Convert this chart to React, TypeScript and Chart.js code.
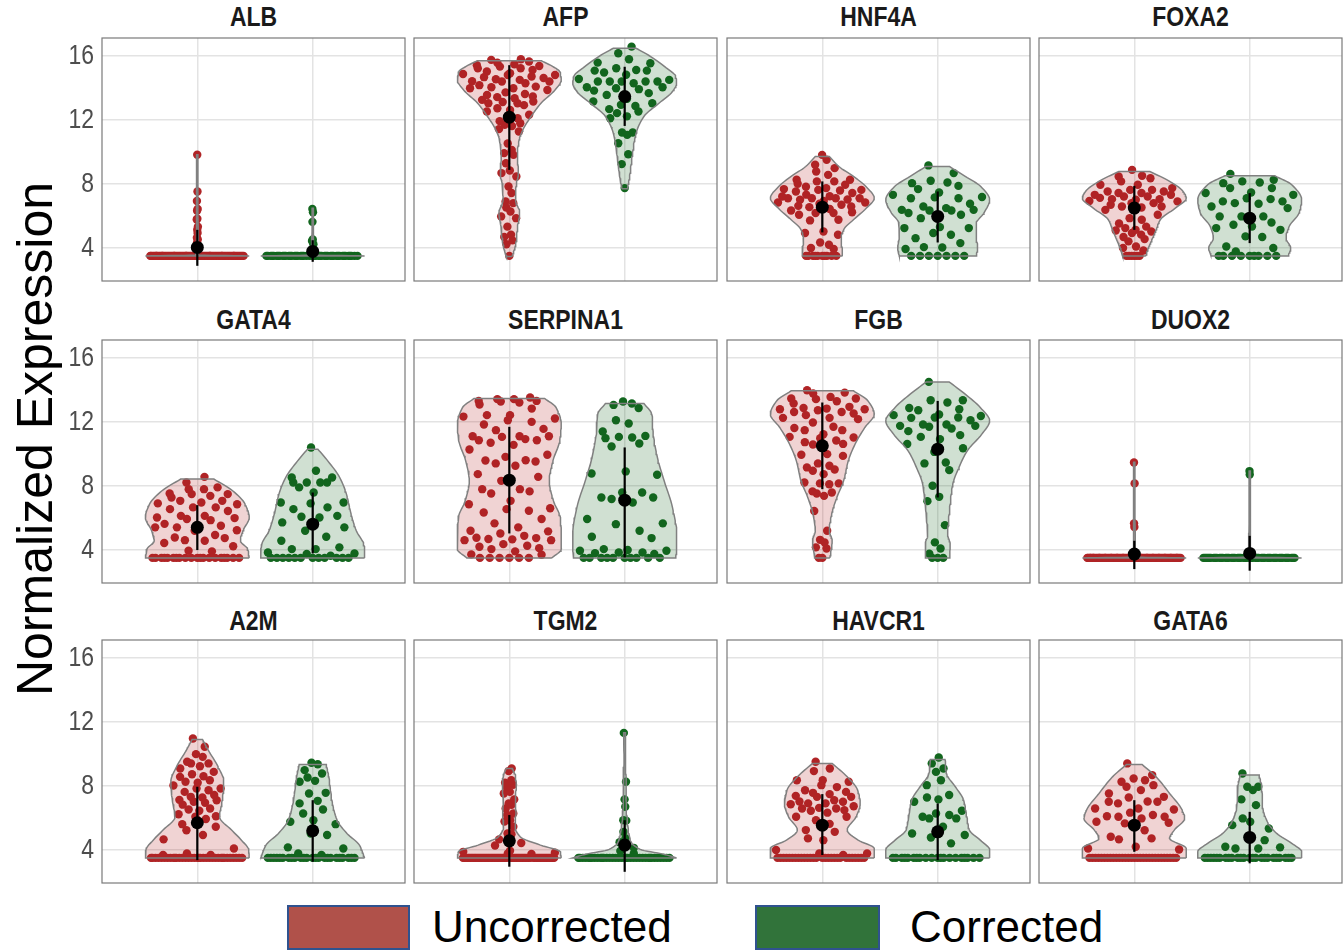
import React, { useEffect, useRef } from "react";
import { Chart, registerables } from "chart.js";

Chart.register(...registerables);

// ---------------- DATA ----------------
const GENES = ["ALB", "AFP", "HNF4A", "FOXA2", "GATA4", "SERPINA1", "FGB", "DUOX2", "A2M", "TGM2", "HAVCR1", "GATA6"];
const GROUPS = ["Uncorrected", "Corrected"];
const Y_TICKS = [4, 8, 12, 16];
const FLOOR = 3.47; // detection floor where many samples sit

// number of samples sitting on the floor, per gene
const FLOOR_COUNT_U = [72, 1, 10, 6, 20, 6, 2, 80, 35, 60, 28, 30];
const FLOOR_COUNT_C = [45, 0, 7, 9, 12, 10, 3, 48, 24, 36, 20, 24];

// sample values above the floor
const ALB_U = [9.8, 7.5, 6.9, 6.4, 6.3, 5.8, 5.75, 5.3, 5.1, 4.9, 4.6, 4.5, 4.3, 4.1];
const ALB_C = [6.4, 6.2, 5.6, 4.5, 4.4, 4.2, 3.9];
const AFP_U = [15.77, 15.73, 15.63, 15.55, 15.46, 15.4, 15.35, 15.31, 15.21, 15.2, 15.1, 15.0, 14.9, 14.85, 14.79, 14.79, 14.69, 14.65, 14.6, 14.52, 14.48, 14.4, 14.38, 14.38, 14.27, 14.15, 14.06, 14.02, 13.96, 13.96, 13.85, 13.7, 13.6, 13.54, 13.44, 13.4, 13.33, 13.23, 13.13, 13.1, 13.02, 13.02, 12.9, 12.71, 12.6, 12.5, 12.3, 12.19, 12.08, 11.9, 11.77, 11.67, 11.6, 11.4, 11.25, 10.5, 10.1, 9.9, 9.79, 9.27, 8.81, 8.65, 8.44, 7.81, 7.4, 6.88, 6.77, 6.5, 6.25, 5.94, 5.83, 5.3, 4.79, 4.65, 4.44, 4.2];
const AFP_C = [16.56, 16.15, 15.77, 15.56, 15.52, 15.21, 15.1, 15.06, 15.06, 14.94, 14.8, 14.54, 14.48, 14.38, 14.38, 14.38, 14.38, 14.38, 14.27, 14.02, 14.02, 13.96, 13.9, 13.81, 13.65, 13.54, 13.3, 13.13, 13.02, 12.92, 12.85, 12.65, 12.5, 12.4, 12.2, 12.08, 11.19, 11.19, 11.04, 10.52, 9.83, 9.21, 7.71];
const HNF4A_U = [9.79, 9.48, 9.17, 8.96, 8.75, 8.54, 8.23, 8.23, 8.13, 8.13, 7.98, 7.92, 7.8, 7.71, 7.65, 7.6, 7.6, 7.56, 7.5, 7.4, 7.3, 7.2, 7.19, 7.08, 7.08, 7.08, 7.08, 7.0, 6.98, 6.9, 6.81, 6.81, 6.73, 6.67, 6.6, 6.56, 6.52, 6.4, 6.31, 6.2, 6.15, 6.15, 6.04, 5.73, 5.69, 5.0, 4.9, 4.79, 4.31, 4.17, 3.96, 3.9];
const HNF4A_C = [9.13, 8.65, 8.17, 8.06, 8.02, 7.85, 7.65, 7.44, 7.29, 7.15, 7.13, 7.08, 7.08, 6.73, 6.56, 6.46, 6.35, 6.35, 6.31, 6.31, 6.15, 6.04, 5.83, 5.27, 5.21, 5.21, 4.9, 4.79, 4.58, 4.27, 4.02, 4.0, 3.9];
const FOXA2_U = [8.85, 8.48, 8.44, 8.33, 8.13, 7.92, 7.92, 7.71, 7.6, 7.6, 7.5, 7.5, 7.4, 7.4, 7.29, 7.29, 7.19, 7.19, 7.1, 7.02, 7.02, 6.98, 6.9, 6.88, 6.77, 6.77, 6.67, 6.56, 6.56, 6.5, 6.35, 6.04, 5.83, 5.73, 5.5, 5.3, 5.21, 5.1, 5.06, 5.0, 4.9, 4.8, 4.65, 4.52, 4.38, 4.06, 3.96, 3.81];
const FOXA2_C = [8.6, 8.23, 8.13, 8.06, 8.02, 7.71, 7.71, 7.44, 7.4, 7.29, 7.08, 7.02, 6.88, 6.88, 6.77, 6.73, 6.56, 6.46, 5.94, 5.94, 5.94, 5.56, 5.42, 5.31, 5.21, 5.1, 4.69, 4.65, 4.06, 3.96, 3.75];
const GATA4_U = [8.54, 8.19, 7.88, 7.77, 7.77, 7.5, 7.46, 7.46, 7.35, 7.25, 7.04, 7.04, 6.94, 6.88, 6.83, 6.63, 6.63, 6.52, 6.4, 6.1, 6.1, 6.0, 5.96, 5.9, 5.83, 5.6, 5.48, 5.38, 5.38, 5.38, 5.2, 5.17, 4.9, 4.75, 4.71, 4.58, 4.54, 4.4, 4.2, 3.92, 3.88];
const GATA4_C = [10.38, 8.92, 8.5, 8.5, 8.19, 8.19, 8.19, 8.19, 7.88, 7.56, 6.94, 6.94, 6.88, 6.63, 6.52, 6.1, 6.04, 6.0, 5.69, 5.38, 5.17, 4.79, 4.54, 4.13, 4.02, 4.02, 3.81, 3.75, 3.71, 3.6];
const SERPINA1_U = [13.5, 13.4, 13.4, 13.29, 13.29, 13.25, 13.19, 13.06, 12.81, 12.4, 12.4, 12.31, 12.19, 12.08, 11.98, 11.81, 11.54, 11.46, 11.08, 11.08, 11.08, 11.04, 10.9, 10.83, 10.83, 10.67, 10.54, 10.25, 9.92, 9.79, 9.58, 9.56, 9.5, 9.38, 9.23, 8.71, 8.54, 8.29, 7.77, 7.77, 7.63, 7.5, 7.04, 6.83, 6.58, 6.52, 6.42, 6.31, 5.9, 5.63, 5.38, 5.17, 5.13, 5.0, 4.85, 4.73, 4.71, 4.65, 4.63, 4.58, 4.58, 4.33, 4.23, 4.17, 4.08, 4.02, 3.88, 3.69, 3.67];
const SERPINA1_C = [13.25, 13.13, 13.04, 12.85, 12.08, 11.88, 11.38, 11.1, 11.04, 11.0, 10.96, 10.63, 10.44, 8.88, 8.75, 8.67, 7.56, 7.56, 7.25, 7.25, 7.15, 6.94, 5.9, 5.63, 5.58, 5.17, 4.79, 4.71, 4.02, 3.96, 3.92, 3.92, 3.81, 3.81, 3.77, 3.71];
const FGB_U = [13.96, 13.81, 13.75, 13.54, 13.44, 13.44, 13.4, 13.27, 13.13, 12.92, 12.85, 12.81, 12.77, 12.77, 12.71, 12.6, 12.6, 12.5, 12.4, 12.23, 12.23, 12.15, 11.94, 11.67, 11.6, 11.46, 11.46, 11.21, 11.04, 11.0, 10.96, 10.81, 10.71, 10.6, 10.56, 9.96, 9.92, 9.85, 9.38, 9.23, 9.13, 9.0, 8.92, 8.71, 8.19, 8.13, 8.13, 8.08, 7.63, 7.56, 7.5, 7.35, 6.4, 5.17, 4.6, 4.44, 4.13, 4.06];
const FGB_C = [14.48, 13.33, 13.33, 13.19, 12.85, 12.77, 12.71, 12.44, 12.4, 12.35, 12.25, 12.25, 12.23, 12.08, 11.81, 11.81, 11.73, 11.73, 11.67, 11.56, 11.4, 11.15, 11.04, 10.9, 10.6, 10.33, 10.1, 9.44, 9.38, 8.96, 7.98, 7.29, 7.02, 5.52, 4.44, 4.06, 3.73];
const DUOX2_U = [9.44, 8.13, 5.63, 5.4];
const DUOX2_C = [8.9, 8.69];
const A2M_U = [10.94, 10.42, 9.96, 9.79, 9.48, 9.38, 9.38, 9.2, 9.06, 8.85, 8.7, 8.58, 8.54, 8.33, 8.23, 8.17, 8.0, 7.81, 7.81, 7.7, 7.6, 7.4, 7.29, 7.25, 7.1, 7.08, 6.98, 6.92, 6.8, 6.56, 6.5, 6.42, 6.2, 6.08, 6.04, 5.9, 5.58, 5.42, 5.2, 4.9, 4.63, 4.06, 3.75, 3.65, 3.65];
const A2M_C = [9.42, 9.33, 8.96, 8.75, 8.5, 8.29, 8.23, 7.54, 7.5, 7.04, 6.88, 6.5, 6.25, 5.83, 5.73, 5.58, 5.0, 4.9, 4.13, 4.06, 3.75, 3.65];
const TGM2_U = [9.06, 8.9, 8.33, 8.17, 8.05, 7.92, 7.6, 7.5, 7.13, 6.88, 6.79, 6.56, 6.25, 6.15, 5.83, 5.75, 5.42, 5.0, 4.95, 4.63, 4.4, 4.25, 3.92, 3.85, 3.8, 3.75, 3.72];
const TGM2_C = [11.29, 8.23, 7.13, 6.67, 5.83, 5.8, 5.1, 4.7, 4.45, 4.1, 3.9, 3.75];
const HAVCR1_U = [9.48, 9.06, 8.9, 8.33, 8.33, 8.23, 8.02, 7.9, 7.7, 7.6, 7.54, 7.46, 7.35, 7.29, 7.29, 7.08, 7.0, 6.98, 6.88, 6.88, 6.83, 6.7, 6.6, 6.56, 6.56, 6.46, 6.42, 6.3, 6.04, 6.04, 5.83, 5.6, 5.21, 5.1, 4.69, 4.58, 3.96, 3.75, 3.75, 3.65];
const HAVCR1_C = [9.75, 9.38, 9.06, 8.85, 8.33, 8.02, 7.4, 7.25, 7.13, 6.98, 6.42, 6.25, 6.15, 6.04, 5.94, 5.94, 5.42, 5.0, 4.9, 4.75, 4.38];
const GATA6_U = [9.38, 8.65, 8.44, 8.33, 8.23, 8.02, 7.92, 7.71, 7.5, 7.29, 7.25, 7.0, 6.98, 6.98, 6.88, 6.56, 6.56, 6.5, 6.3, 6.15, 6.08, 6.04, 6.04, 5.94, 5.73, 5.67, 5.63, 5.2, 4.79, 4.69, 4.63, 4.17, 4.06, 4.0];
const GATA6_C = [8.75, 7.92, 7.92, 7.71, 7.13, 6.77, 5.94, 5.73, 5.52, 5.31, 4.79, 4.58, 4.17, 4.13, 4.06, 4.06];

// violin outlines: [value, relative half-width] from bottom to top
const ALB_U_SHAPE = [[3.47, 1], [3.52, 0.03], [4.5, 0.015], [9.8, 0.01]];
const ALB_C_SHAPE = [[3.47, 1], [3.52, 0.03], [4.5, 0.015], [6.45, 0.01]];
const AFP_U_SHAPE = [[3.44, 0.05], [3.65, 0.08], [4.48, 0.135], [5.31, 0.16], [6.15, 0.2], [6.98, 0.12], [7.81, 0.13], [8.65, 0.175], [9.69, 0.155], [10.73, 0.19], [11.35, 0.26], [12.19, 0.42], [13.02, 0.61], [13.85, 0.88], [14.48, 1.0], [15.0, 0.97], [15.31, 0.84], [15.67, 0.62]];
const AFP_C_SHAPE = [[7.67, 0.05], [8.23, 0.085], [9.06, 0.12], [10.1, 0.16], [11.15, 0.22], [12.19, 0.37], [13.02, 0.66], [13.75, 0.92], [14.27, 1.0], [14.69, 0.98], [15.31, 0.77], [15.94, 0.5], [16.46, 0.22]];
const HNF4A_U_SHAPE = [[3.47, 0.39], [3.96, 0.38], [4.48, 0.36], [5.1, 0.41], [5.73, 0.6], [6.46, 0.85], [7.08, 1.0], [7.81, 0.84], [8.44, 0.6], [9.06, 0.32], [9.69, 0.135]];
const HNF4A_C_SHAPE = [[3.47, 0.74], [3.96, 0.77], [4.69, 0.74], [5.52, 0.75], [6.15, 0.89], [6.98, 1.0], [7.81, 0.83], [8.44, 0.53], [9.06, 0.23]];
const FOXA2_U_SHAPE = [[3.47, 0.22], [3.96, 0.27], [4.48, 0.34], [5.1, 0.42], [5.73, 0.5], [6.46, 0.79], [7.08, 1.0], [7.5, 0.94], [8.13, 0.68], [8.75, 0.3]];
const FOXA2_C_SHAPE = [[3.47, 0.74], [3.96, 0.79], [4.58, 0.7], [5.31, 0.76], [6.15, 0.95], [6.98, 1.0], [7.92, 0.81], [8.48, 0.48]];
const GATA4_U_SHAPE = [[3.47, 1.0], [4.02, 0.97], [4.54, 0.83], [5.17, 0.88], [6.0, 1.0], [6.83, 0.92], [7.67, 0.68], [8.4, 0.32]];
const GATA4_C_SHAPE = [[3.47, 1.0], [3.92, 1.0], [4.33, 0.98], [5.17, 0.84], [6.21, 0.74], [7.46, 0.65], [8.5, 0.52], [9.54, 0.29], [10.27, 0.1]];
const SERPINA1_U_SHAPE = [[3.47, 0.82], [4.02, 1.0], [4.96, 1.0], [6.0, 0.98], [7.04, 0.85], [8.29, 0.77], [9.54, 0.84], [10.79, 0.97], [11.83, 1.0], [12.88, 0.9], [13.44, 0.68]];
const SERPINA1_C_SHAPE = [[3.47, 0.98], [4.02, 1.0], [4.96, 1.0], [6.63, 0.92], [8.29, 0.76], [9.75, 0.63], [11.21, 0.55], [12.46, 0.52], [13.13, 0.37]];
const FGB_U_SHAPE = [[3.47, 0.145], [4.54, 0.19], [5.17, 0.135], [6.21, 0.18], [7.25, 0.28], [8.29, 0.41], [9.54, 0.5], [10.58, 0.63], [11.63, 0.82], [12.46, 1.0], [13.29, 0.88], [13.92, 0.6]];
const FGB_C_SHAPE = [[3.47, 0.23], [4.33, 0.24], [4.96, 0.19], [5.79, 0.21], [6.83, 0.24], [8.08, 0.29], [9.13, 0.41], [10.17, 0.57], [11.21, 0.85], [12.04, 1.0], [12.88, 0.82], [13.71, 0.53], [14.48, 0.22]];
const DUOX2_U_SHAPE = [[3.47, 1], [3.52, 0.03], [4.5, 0.015], [9.45, 0.01]];
const DUOX2_C_SHAPE = [[3.47, 1], [3.52, 0.03], [4.5, 0.015], [8.9, 0.01]];
const A2M_U_SHAPE = [[3.47, 1.0], [3.96, 0.99], [4.58, 0.85], [5.21, 0.66], [6.04, 0.43], [7.08, 0.48], [8.23, 0.51], [9.17, 0.4], [10.21, 0.21], [10.88, 0.1]];
const A2M_C_SHAPE = [[3.47, 1.0], [4.27, 0.9], [5.0, 0.66], [5.83, 0.47], [7.08, 0.37], [8.54, 0.31], [9.31, 0.26]];
const TGM2_U_SHAPE = [[3.47, 1.0], [3.85, 0.98], [4.27, 0.6], [4.79, 0.21], [5.42, 0.11], [6.25, 0.13], [7.08, 0.115], [7.92, 0.135], [8.54, 0.12], [9.06, 0.06]];
const TGM2_C_SHAPE = [[3.47, 1.0], [3.7, 0.75], [4.0, 0.3], [4.5, 0.12], [5.8, 0.05], [7.1, 0.025], [8.2, 0.03], [9.5, 0.012], [11.3, 0.02]];
const HAVCR1_U_SHAPE = [[3.47, 1.0], [4.06, 1.0], [4.58, 0.69], [5.21, 0.48], [6.04, 0.65], [6.88, 0.73], [7.71, 0.68], [8.54, 0.48], [9.38, 0.19]];
const HAVCR1_C_SHAPE = [[3.47, 1.0], [3.96, 1.0], [4.58, 0.82], [5.21, 0.61], [6.04, 0.56], [7.08, 0.5], [7.92, 0.34], [8.75, 0.17], [9.63, 0.14]];
const GATA6_U_SHAPE = [[3.47, 1.0], [4.06, 1.0], [4.69, 0.68], [5.21, 0.77], [5.94, 0.97], [6.46, 0.92], [7.5, 0.68], [8.54, 0.42], [9.31, 0.15]];
const GATA6_C_SHAPE = [[3.47, 1.0], [3.85, 1.0], [4.38, 0.81], [5.0, 0.52], [5.73, 0.34], [6.67, 0.25], [7.92, 0.23], [8.65, 0.18]];

// summary (mean and mean ± sd) per gene
const MEAN_U = [4.0, 12.15, 6.52, 6.46, 5.38, 8.33, 10.48, 3.71, 5.67, 4.54, 5.52, 5.52];
const LO_U = [2.85, 8.85, 4.94, 5.1, 3.96, 5.0, 7.77, 2.77, 3.33, 2.92, 3.65, 3.85];
const HI_U = [5.1, 15.4, 8.13, 7.85, 6.77, 11.67, 13.19, 4.54, 7.92, 6.15, 7.46, 7.08];
const MEAN_C = [3.75, 13.44, 5.94, 5.83, 5.58, 7.08, 10.27, 3.75, 5.17, 4.27, 5.1, 4.75];
const LO_C = [3.1, 11.6, 4.31, 4.27, 3.75, 3.5, 7.25, 2.67, 3.23, 2.6, 3.33, 3.13];
const HI_C = [4.45, 15.3, 7.5, 7.4, 7.56, 10.38, 13.29, 4.85, 7.08, 5.83, 6.88, 6.35];

const SERIES_U = [ALB_U, AFP_U, HNF4A_U, FOXA2_U, GATA4_U, SERPINA1_U, FGB_U, DUOX2_U, A2M_U, TGM2_U, HAVCR1_U, GATA6_U];
const SERIES_C = [ALB_C, AFP_C, HNF4A_C, FOXA2_C, GATA4_C, SERPINA1_C, FGB_C, DUOX2_C, A2M_C, TGM2_C, HAVCR1_C, GATA6_C];
const SHAPES_U = [ALB_U_SHAPE, AFP_U_SHAPE, HNF4A_U_SHAPE, FOXA2_U_SHAPE, GATA4_U_SHAPE, SERPINA1_U_SHAPE, FGB_U_SHAPE, DUOX2_U_SHAPE, A2M_U_SHAPE, TGM2_U_SHAPE, HAVCR1_U_SHAPE, GATA6_U_SHAPE];
const SHAPES_C = [ALB_C_SHAPE, AFP_C_SHAPE, HNF4A_C_SHAPE, FOXA2_C_SHAPE, GATA4_C_SHAPE, SERPINA1_C_SHAPE, FGB_C_SHAPE, DUOX2_C_SHAPE, A2M_C_SHAPE, TGM2_C_SHAPE, HAVCR1_C_SHAPE, GATA6_C_SHAPE];

// ---------------- STYLE / LAYOUT ----------------
const PANEL_LEFT = [102, 414, 727, 1039];
const PANEL_TOP = [38, 340, 640];
const TITLE_TOP = [3, 306, 607];
const PW = 303;
const PH = 243;
const YW = 60;
const X_MIN = -0.826;
const X_MAX = 1.8;
const Y_MIN = 1.9;
const Y_MAX = 17.1;
const HALF = 0.45;
const CONDENSE = 0.82;
const POINT_COL = ["rgb(176,36,38)", "rgb(18,102,30)"];
const FILL_COL = ["rgba(178,34,34,0.2)", "rgba(18,102,30,0.2)"];
const LEGEND_COL = ["#B0514A", "#31733A"];
const SANS = '"Liberation Sans", Arial, sans-serif';

function monotone(pts: number[][]) {
  const xs = pts.map((p) => p[0]);
  const ys = pts.map((p) => p[1]);
  const n = xs.length;
  const h: number[] = [];
  const d: number[] = [];
  for (let i = 0; i < n - 1; i++) {
    h.push(xs[i + 1] - xs[i]);
    d.push((ys[i + 1] - ys[i]) / h[i]);
  }
  const m: number[] = new Array(n).fill(0);
  m[0] = d[0];
  m[n - 1] = d[n - 2];
  for (let i = 1; i < n - 1; i++) {
    if (d[i - 1] * d[i] <= 0) m[i] = 0;
    else {
      const w1 = 2 * h[i] + h[i - 1];
      const w2 = h[i] + 2 * h[i - 1];
      m[i] = (w1 + w2) / (w1 / d[i - 1] + w2 / d[i]);
    }
  }
  const fn = (x: number) => {
    if (x <= xs[0]) return ys[0];
    if (x >= xs[n - 1]) return ys[n - 1];
    let i = 0;
    while (i < n - 2 && x > xs[i + 1]) i++;
    const t = (x - xs[i]) / h[i];
    const t2 = t * t;
    const t3 = t2 * t;
    const v = (2 * t3 - 3 * t2 + 1) * ys[i] + (t3 - 2 * t2 + t) * h[i] * m[i] + (-2 * t3 + 3 * t2) * ys[i + 1] + (t3 - t2) * h[i] * m[i + 1];
    return Math.max(0, v);
  };
  return { fn, xs };
}

function vdc(k: number) {
  let v = 0;
  let den = 1;
  while (k > 0) {
    den *= 2;
    v += (k % 2) / den;
    k = Math.floor(k / 2);
  }
  return v;
}

const framePlugin = {
  id: "frame",
  afterDraw(chart: any) {
    const { ctx, chartArea } = chart;
    ctx.save();
    ctx.strokeStyle = "#7a7a7a";
    ctx.lineWidth = 1.2;
    ctx.strokeRect(chartArea.left, chartArea.top, chartArea.right - chartArea.left, chartArea.bottom - chartArea.top);
    ctx.restore();
  },
};

// draws the y tick labels of the scale in a condensed face (like Arial Narrow)
function makeTickPlugin(show: boolean) {
  return {
    id: "condensedTicks",
    afterDraw(chart: any) {
      if (!show) return;
      const { ctx, chartArea } = chart;
      const s = chart.scales.y;
      ctx.save();
      ctx.font = `28px ${SANS}`;
      ctx.fillStyle = "#4D4D4D";
      ctx.textAlign = "right";
      ctx.textBaseline = "middle";
      for (const t of s.ticks) {
        const y = s.getPixelForValue(t.value);
        ctx.save();
        ctx.translate(chartArea.left - 8, y + 1);
        ctx.scale(CONDENSE, 1);
        ctx.fillText(String(t.value), 0, 0);
        ctx.restore();
      }
      ctx.restore();
    },
  };
}

function buildConfig(gi: number, col: number): any {
  const datasets: any[] = [];
  [0, 1].forEach((g) => {
    const floorCount = g === 0 ? FLOOR_COUNT_U[gi] : FLOOR_COUNT_C[gi];
    const raw = g === 0 ? SERIES_U[gi] : SERIES_C[gi];
    const vals = [...new Array(floorCount).fill(FLOOR), ...raw].sort((a, b) => a - b);
    const shape = g === 0 ? SHAPES_U[gi] : SHAPES_C[gi];
    const { fn, xs } = monotone(shape);
    const c = g;
    const pts = vals.map((v, i) => ({ x: c + (2 * vdc(i + 1) - 1) * HALF * 0.92 * fn(v), y: v }));
    datasets.push({
      label: GROUPS[g] + " points",
      data: pts,
      pointRadius: 4.2,
      pointBackgroundColor: POINT_COL[g],
      pointBorderWidth: 0,
      showLine: false,
      order: 5,
    });
    // violin outline
    const samples: number[] = [];
    for (let s = 0; s < xs.length - 1; s++) {
      for (let k = 0; k < 8; k++) samples.push(xs[s] + ((xs[s + 1] - xs[s]) * k) / 8);
    }
    samples.push(xs[xs.length - 1]);
    const right = samples.map((v) => ({ x: c + HALF * fn(v), y: v }));
    const left = samples.slice().reverse().map((v) => ({ x: c - HALF * fn(v), y: v }));
    const path = [...right, ...left, right[0]];
    datasets.push({
      label: GROUPS[g] + " violin",
      data: path,
      showLine: true,
      fill: "shape",
      backgroundColor: FILL_COL[g],
      borderColor: "#808080",
      borderWidth: 1.5,
      pointRadius: 0,
      tension: 0,
      order: 4,
    });
    datasets.push({
      label: GROUPS[g] + " sd",
      data: [
        { x: c, y: g === 0 ? LO_U[gi] : LO_C[gi] },
        { x: c, y: g === 0 ? HI_U[gi] : HI_C[gi] },
      ],
      showLine: true,
      borderColor: "#000",
      borderWidth: 2.2,
      pointRadius: 0,
      order: 2,
    });
  });
  datasets.push({
    label: "mean",
    data: [
      { x: 0, y: MEAN_U[gi] },
      { x: 1, y: MEAN_C[gi] },
    ],
    pointRadius: 6.5,
    pointBackgroundColor: "#000",
    pointBorderWidth: 0,
    showLine: false,
    order: 1,
  });

  const gridOpts = { color: "#E3E3E3", lineWidth: 1.5, drawTicks: false };
  return {
    type: "scatter",
    data: { datasets },
    options: {
      animation: false,
      responsive: false,
      maintainAspectRatio: false,
      events: [],
      layout: { autoPadding: false, padding: { left: 2, right: 2, top: 2, bottom: 2 } },
      plugins: { legend: { display: false }, tooltip: { enabled: false }, title: { display: false } },
      scales: {
        x: {
          type: "linear",
          min: X_MIN,
          max: X_MAX,
          grid: gridOpts,
          border: { display: false },
          ticks: { display: false },
          afterBuildTicks: (s: any) => {
            s.ticks = [{ value: 0 }, { value: 1 }];
          },
          afterFit: (s: any) => {
            s.height = 0;
            s.paddingLeft = 0;
            s.paddingRight = 0;
            s.paddingTop = 0;
            s.paddingBottom = 0;
          },
        },
        y: {
          type: "linear",
          min: Y_MIN,
          max: Y_MAX,
          grid: gridOpts,
          border: { display: false },
          ticks: { display: false },
          afterBuildTicks: (s: any) => {
            s.ticks = Y_TICKS.map((v) => ({ value: v }));
          },
          afterFit: (s: any) => {
            s.width = col === 0 ? YW : 0;
            s.paddingTop = 0;
            s.paddingBottom = 0;
            s.paddingLeft = 0;
            s.paddingRight = 0;
          },
        },
      },
    },
    plugins: [framePlugin, makeTickPlugin(col === 0)],
  };
}

function Panel({ gi }: { gi: number }) {
  const ref = useRef<HTMLCanvasElement>(null);
  const row = Math.floor(gi / 4);
  const col = gi % 4;
  const yw = col === 0 ? YW : 0;
  const w = PW + 4 + yw;
  const h = PH + 4;
  useEffect(() => {
    const chart = new Chart(ref.current as HTMLCanvasElement, buildConfig(gi, col));
    return () => chart.destroy();
  }, [gi, col]);
  return (
    <>
      <canvas
        ref={ref}
        width={w}
        height={h}
        style={{ position: "absolute", left: PANEL_LEFT[col] - 2 - yw, top: PANEL_TOP[row] - 2, width: w, height: h }}
      />
      <div
        style={{
          position: "absolute",
          left: PANEL_LEFT[col],
          width: PW,
          top: TITLE_TOP[row],
          textAlign: "center",
          font: `bold 28px ${SANS}`,
          lineHeight: "28px",
          color: "#1A1A1A",
          whiteSpace: "nowrap",
          transform: `scaleX(${CONDENSE})`,
          transformOrigin: "center center",
        }}
      >
        {GENES[gi]}
      </div>
    </>
  );
}

export default function App() {
  return (
    <div style={{ position: "absolute", left: 0, top: 0, width: 1343, height: 952, background: "#fff", overflow: "hidden" }}>
      {GENES.map((_, gi) => (
        <Panel key={gi} gi={gi} />
      ))}
      <div
        style={{
          position: "absolute",
          left: 30.5 - 300,
          top: 439 - 25,
          width: 600,
          height: 50,
          lineHeight: "50px",
          textAlign: "center",
          font: `50px ${SANS}`,
          color: "#000",
          transform: "rotate(-90deg)",
          transformOrigin: "center center",
          whiteSpace: "nowrap",
        }}
      >
        Normalized Expression
      </div>
      {/* legend */}
      <div style={{ position: "absolute", left: 287, top: 905, width: 123, height: 45, background: LEGEND_COL[0], border: "2px solid #2F528F", boxSizing: "border-box" }} />
      <div style={{ position: "absolute", left: 432, top: 902, font: `44px ${SANS}`, lineHeight: "50px", color: "#000", whiteSpace: "nowrap" }}>{GROUPS[0]}</div>
      <div style={{ position: "absolute", left: 755, top: 905, width: 125, height: 45, background: LEGEND_COL[1], border: "2px solid #2F528F", boxSizing: "border-box" }} />
      <div style={{ position: "absolute", left: 910, top: 902, font: `44px ${SANS}`, lineHeight: "50px", color: "#000", whiteSpace: "nowrap" }}>{GROUPS[1]}</div>
    </div>
  );
}
